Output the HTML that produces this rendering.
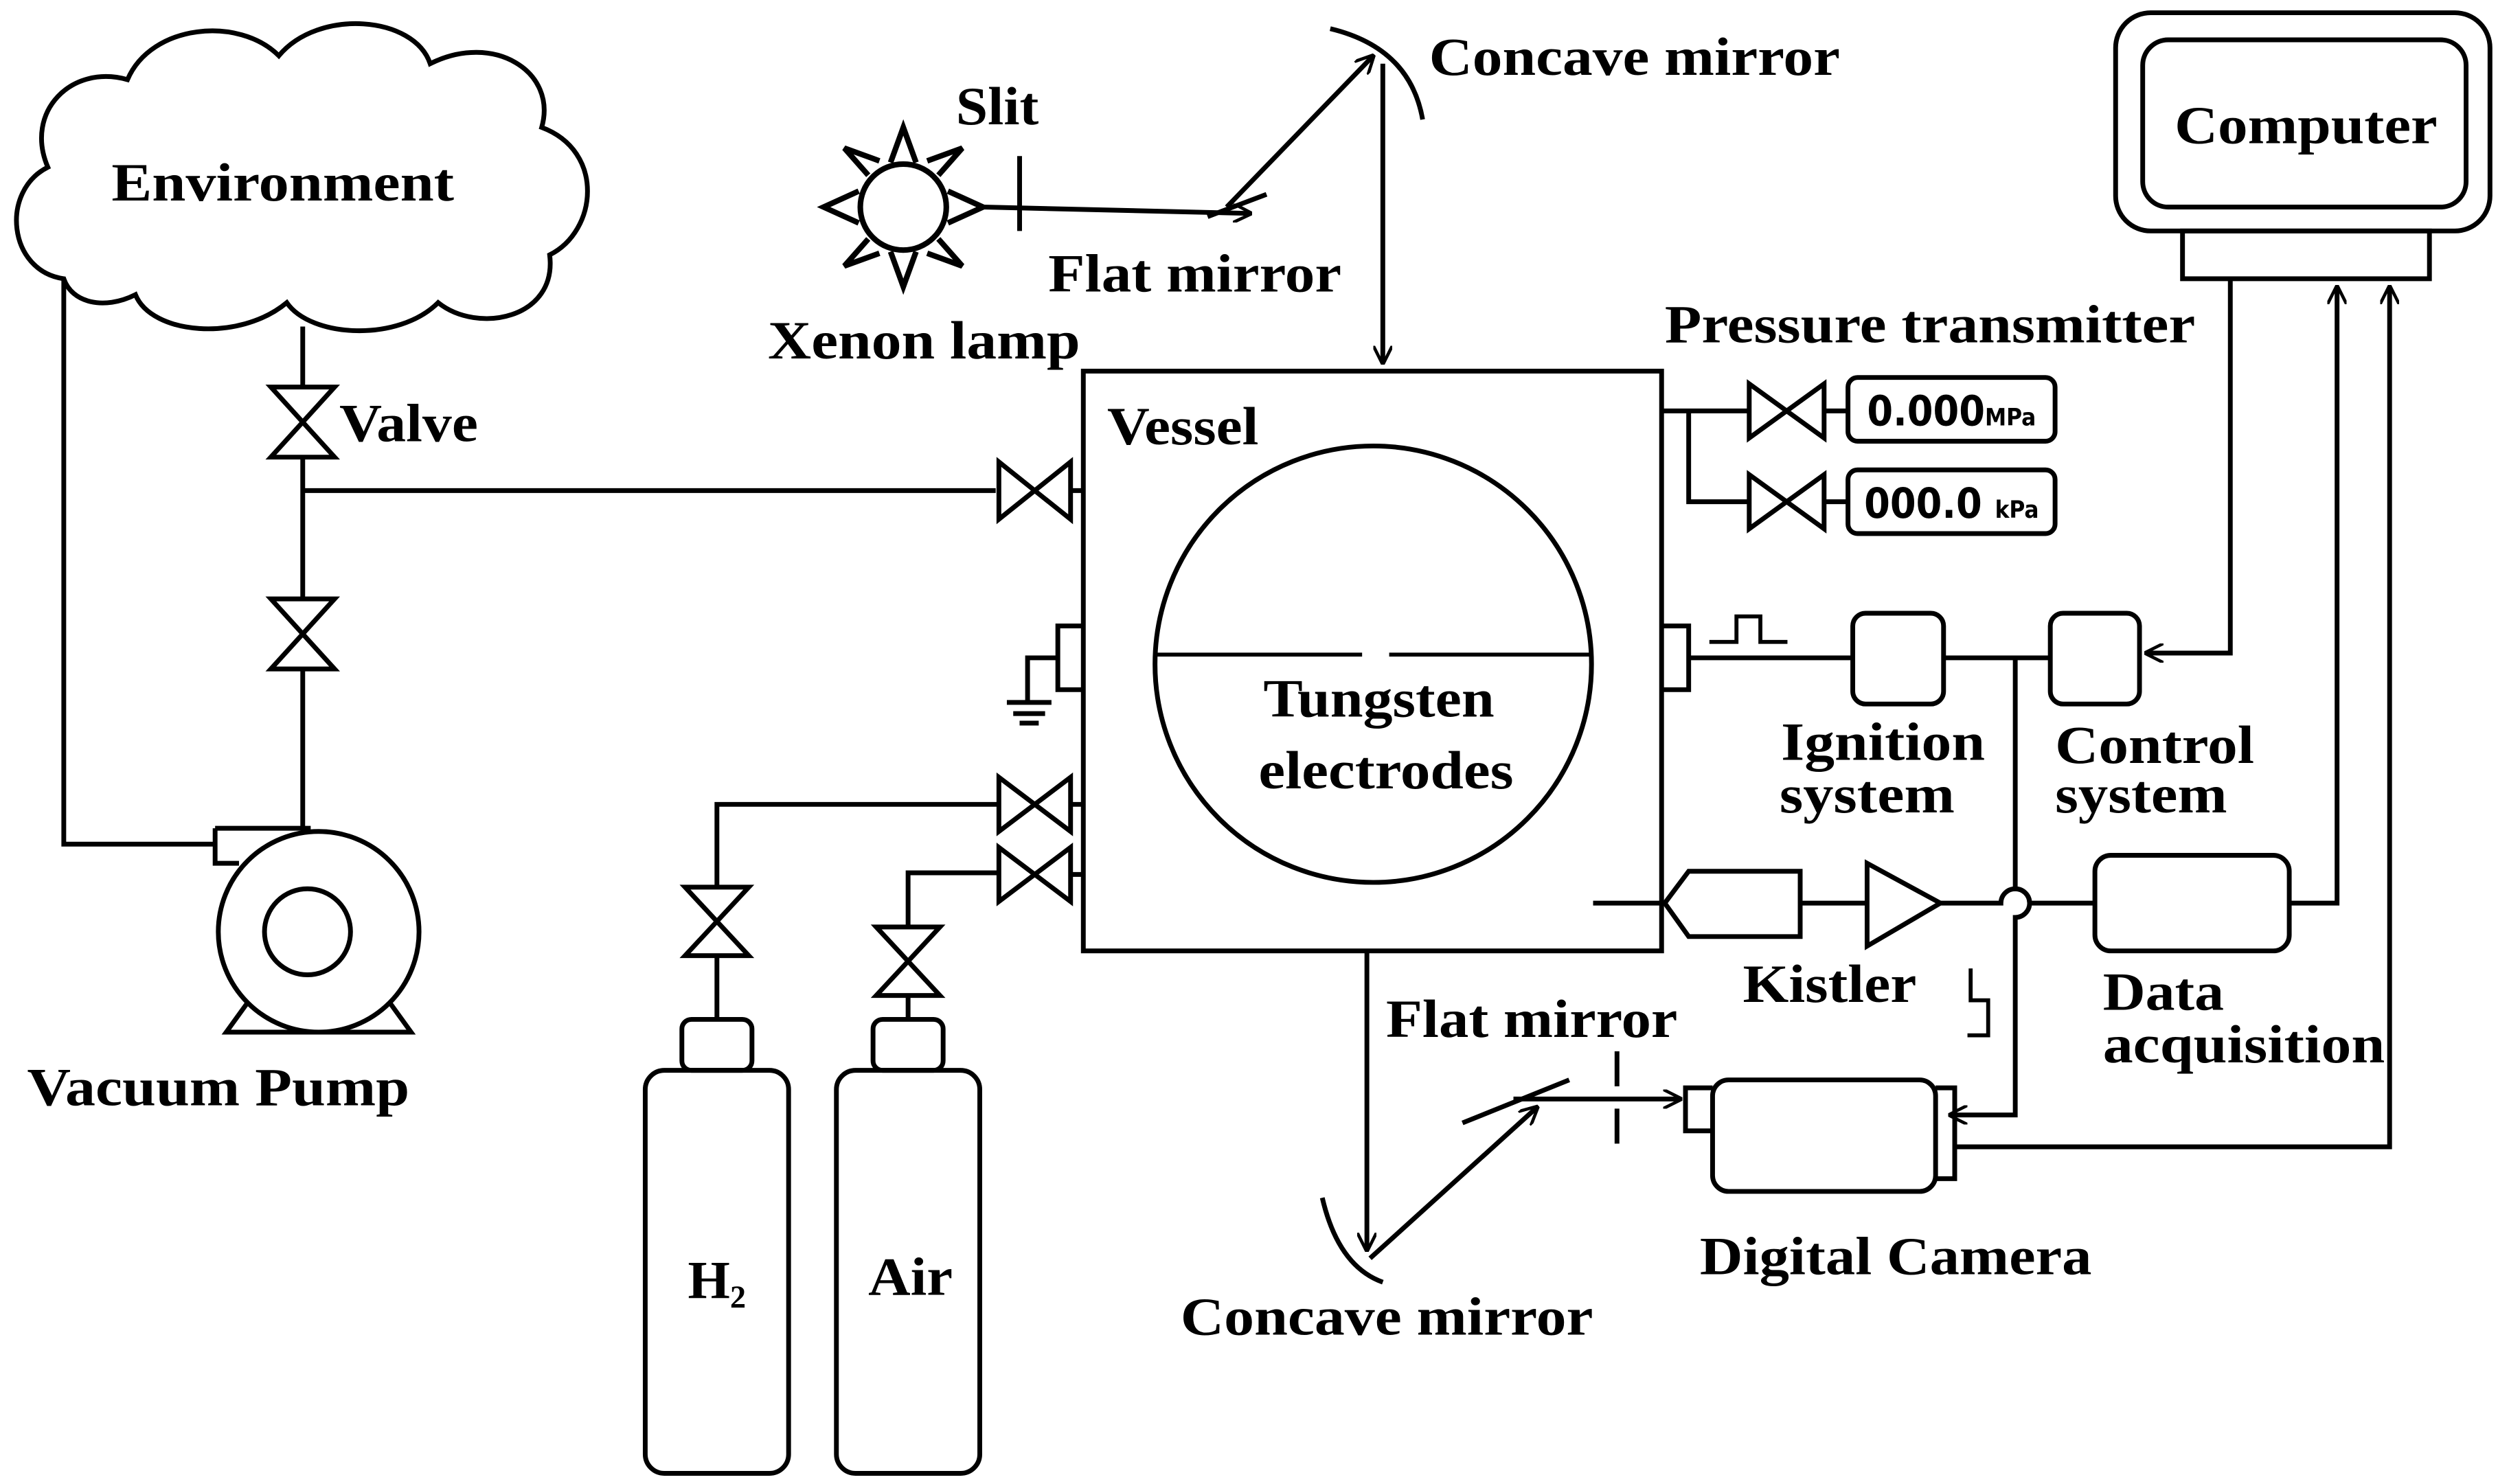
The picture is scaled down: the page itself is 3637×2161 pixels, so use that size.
<!DOCTYPE html>
<html><head><meta charset="utf-8"><style>
html,body{margin:0;padding:0;background:#fff;}
svg{display:block;}
text{font-family:"Liberation Serif",serif;font-weight:bold;font-size:34px;fill:#000;}
</style></head><body>
<svg width="3637" height="2161" viewBox="0 0 1568 931.7" xmlns="http://www.w3.org/2000/svg">
<defs>
<marker id="ar" viewBox="0 0 12 12" refX="11" refY="6" markerWidth="12" markerHeight="12" markerUnits="userSpaceOnUse" orient="auto"><path d="M0,0 L12,6 L0,12" fill="none" stroke="#000" stroke-width="2"/></marker>
</defs>
<g fill="none" stroke="#000" stroke-width="3">
<path d="M40,175 C5,170 0,120 30,105 C15,70 45,40 80,50 C95,15 150,10 175,35 C200,5 260,10 270,40 C310,20 350,45 340,80 C380,95 375,145 345,160 C350,200 300,210 275,190 C250,215 195,212 180,190 C150,215 95,210 85,185 C65,195 45,190 40,175 Z"/>
<path d="M40,175 V530 H135"/>
<path d="M190,205 V243 M190,287 V376 M190,420 V520"/>
<path d="M190,308 H625 M672,308 H680"/>
<path d="M170,243 H210 L170,287 H210 Z"/>
<path d="M170,376 H210 L170,420 H210 Z"/>
<path d="M627,290 V326 L672,290 V326 Z"/>
<path d="M627,488 V522 L672,488 V522 Z"/>
<path d="M627,532 V566 L672,532 V566 Z"/>
<path d="M672,505 H680 M672,549 H680"/>
<path d="M430,557 H470 L430,600 H470 Z"/>
<path d="M550,582 H590 L550,625 H590 Z"/>
<path d="M450,640 V600 M450,557 V505 H627"/>
<path d="M570,640 V625 M570,582 V548 H627"/>
<circle cx="200" cy="585" r="63"/>
<circle cx="193" cy="585" r="27"/>
<path d="M135,520 H195 M135,520 V542 H150"/>
<path d="M155,630 L142,648 H258 L245,630"/>
<rect x="680" y="233" width="363" height="364"/>
<circle cx="862" cy="417" r="137"/>
<path d="M725,411 H855 M872,411 H999" stroke-width="2.5"/>
<path d="M680,393 H664 V433 H680 M664,413 H645 V440"/>
<path d="M632,441 H660 M636,448 H656 M640,454 H652"/>
<path d="M1043,393 H1060 V433 H1043 M1060,413 H1163"/>
<path d="M1073,403 H1090 V387 H1105 V403 H1122" stroke-width="2.5"/>
<rect x="1163" y="385" width="57" height="57" rx="8"/>
<rect x="1287" y="385" width="56" height="57" rx="8"/>
<path d="M1220,413 H1287"/>
<path d="M1400,175 V410 H1347" marker-end="url(#ar)"/>
<path d="M1265,413 V558 A9,9 0 0 1 1265,576 V700 H1224" marker-end="url(#ar)"/>
<path d="M1000,567 H1045"/>
<path d="M1045,567 L1060,547 H1130 V588 H1060 Z"/>
<path d="M1130,567 H1172"/>
<path d="M1172,542 V594 L1218,567 Z"/>
<path d="M1218,567 H1256 A9,9 0 0 1 1274,567 H1315"/>
<rect x="1315" y="537" width="122" height="60" rx="10"/>
<path d="M1437,567 H1467 V180" marker-end="url(#ar)"/>
<path d="M1228,720 H1500 V180" marker-end="url(#ar)"/>
<path d="M1235,650 H1248 V628 H1237 V608" stroke-width="2.5"/>
<rect x="1328" y="8" width="235" height="137" rx="22"/>
<rect x="1345" y="25" width="203" height="105" rx="16"/>
<rect x="1370" y="145" width="155" height="30"/>
<path d="M1043,258 H1097 M1060,258 V315 H1097 M1145,258 H1160 M1145,315 H1160"/>
<path d="M1098,241 V275 L1145,241 V275 Z"/>
<path d="M1098,298 V332 L1145,298 V332 Z"/>
<rect x="1160" y="237" width="130" height="40" rx="6"/>
<rect x="1160" y="295" width="130" height="40" rx="6"/>
<rect x="1075" y="678" width="140" height="70" rx="10"/>
<path d="M1075,683 H1058 V710 H1075"/>
<path d="M1215,683 H1227 V740 H1215"/>
<path d="M858,597 V785" marker-end="url(#ar)"/>
<path d="M860,790 L965,695" marker-end="url(#ar)"/>
<path d="M950,690 H1055" marker-end="url(#ar)"/>
<path d="M918,705 L985,678"/>
<path d="M1015,660 V730" stroke-dasharray="22,14"/>
<path d="M830,752 Q840,795 868,805"/>
<circle cx="567" cy="130" r="27" stroke-width="3.5"/>
<path d="M559,102 L567,80 L575,102 M559,158 L567,180 L575,158 M539,120 L517,130 L539,140 M595,120 L617,130 L595,140 M545,110 L530,93 L552,101 M589,110 L604,93 L582,101 M545,150 L530,167 L552,159 M589,150 L604,167 L582,159" stroke-width="3.5"/>
<path d="M640,98 V145"/>
<path d="M617,130 L785,134" marker-end="url(#ar)"/>
<path d="M758,136 L795,122"/>
<path d="M770,130 L862,35" marker-end="url(#ar)"/>
<path d="M835,18 Q885,30 893,75"/>
<path d="M868,40 V228" marker-end="url(#ar)"/>
<rect x="428" y="640" width="44" height="32" rx="6"/>
<rect x="405" y="672" width="90" height="253" rx="12"/>
<rect x="548" y="640" width="44" height="32" rx="6"/>
<rect x="525" y="672" width="90" height="253" rx="12"/>
</g>
<g lengthAdjust="spacingAndGlyphs">
<text x="70" y="126" textLength="215" lengthAdjust="spacingAndGlyphs">Environment</text>
<text x="213" y="277" textLength="87" lengthAdjust="spacingAndGlyphs">Valve</text>
<text x="17" y="694" textLength="240" lengthAdjust="spacingAndGlyphs">Vacuum Pump</text>
<text x="600" y="78" textLength="52" lengthAdjust="spacingAndGlyphs">Slit</text>
<text x="658" y="183" textLength="184" lengthAdjust="spacingAndGlyphs">Flat mirror</text>
<text x="482" y="225" textLength="196" lengthAdjust="spacingAndGlyphs">Xenon lamp</text>
<text x="897" y="47" textLength="258" lengthAdjust="spacingAndGlyphs">Concave mirror</text>
<text x="695" y="279" textLength="95" lengthAdjust="spacingAndGlyphs">Vessel</text>
<text x="793" y="450" textLength="145" lengthAdjust="spacingAndGlyphs">Tungsten</text>
<text x="790" y="495" textLength="160" lengthAdjust="spacingAndGlyphs">electrodes</text>
<text x="1045" y="215" textLength="333" lengthAdjust="spacingAndGlyphs">Pressure transmitter</text>
<text x="1118" y="477" textLength="128" lengthAdjust="spacingAndGlyphs">Ignition</text>
<text x="1117" y="510" textLength="110" lengthAdjust="spacingAndGlyphs">system</text>
<text x="1290" y="479" textLength="125" lengthAdjust="spacingAndGlyphs">Control</text>
<text x="1290" y="510" textLength="108" lengthAdjust="spacingAndGlyphs">system</text>
<text x="1094" y="629" textLength="109" lengthAdjust="spacingAndGlyphs">Kistler</text>
<text x="1320" y="634" textLength="76" lengthAdjust="spacingAndGlyphs">Data</text>
<text x="1320" y="667" textLength="177" lengthAdjust="spacingAndGlyphs">acquisition</text>
<text x="870" y="651" textLength="183" lengthAdjust="spacingAndGlyphs">Flat mirror</text>
<text x="741" y="838" textLength="259" lengthAdjust="spacingAndGlyphs">Concave mirror</text>
<text x="1067" y="800" textLength="246" lengthAdjust="spacingAndGlyphs">Digital Camera</text>
<text x="1365" y="90" textLength="165" lengthAdjust="spacingAndGlyphs">Computer</text>
<text x="545" y="813" textLength="53" lengthAdjust="spacingAndGlyphs">Air</text>
</g>
<text x="1225" y="267" text-anchor="middle" style="font-family:'DejaVu Sans Condensed','DejaVu Sans',sans-serif;font-weight:bold;font-size:26px">0.000<tspan font-size="15">MPa</tspan></text>
<text x="1225" y="325" text-anchor="middle" style="font-family:'DejaVu Sans Condensed','DejaVu Sans',sans-serif;font-weight:bold;font-size:26px">000.0 <tspan font-size="15">kPa</tspan></text>
<text x="450" y="815" text-anchor="middle">H<tspan font-size="20" dy="6">2</tspan></text>
</svg>
</body></html>
